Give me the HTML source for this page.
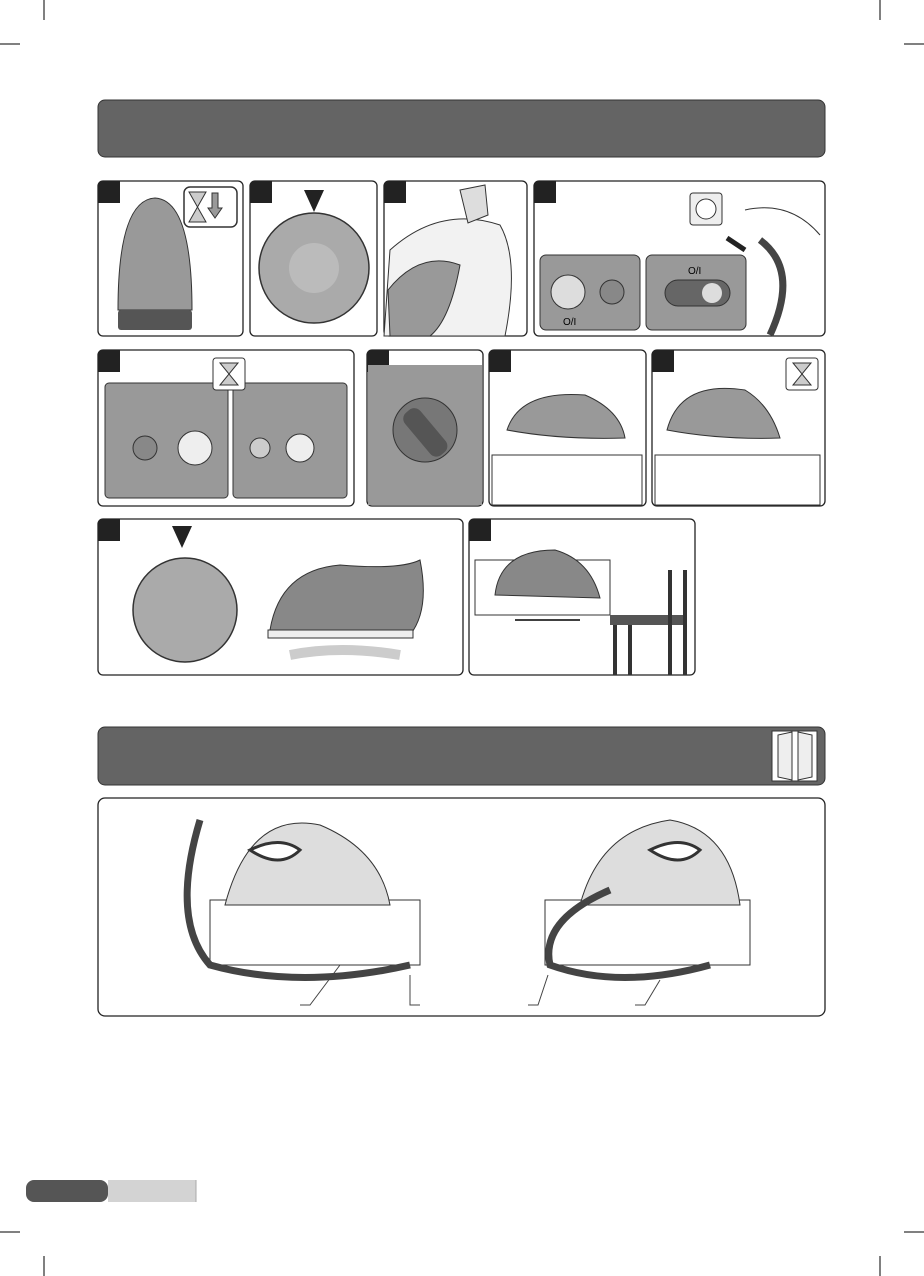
<!DOCTYPE html>
<html><head><style>body{margin:0;background:#fff}svg{display:block}</style></head><body>
<svg width="924" height="1276" viewBox="0 0 924 1276" xmlns="http://www.w3.org/2000/svg" font-family="Liberation Sans, sans-serif">
<g stroke="#000" stroke-width="1" fill="none">
<path d="M0 44H20M44 0V20M880 0V20M904 44H924M0 1232H20M44 1256V1276M880 1256V1276M904 1232H924"/>
</g>
<rect x="98" y="100" width="727" height="57" rx="7" fill="#646464" stroke="#333"/>
<rect x="98" y="727" width="727" height="58" rx="7" fill="#646464" stroke="#333"/>
<!-- wardrobe icon -->
<rect x="772" y="731" width="45" height="50" fill="#fff" stroke="#333"/>
<path d="M778 735v42l14 3v-48zM812 735v42l-14 3v-48z" fill="#eee" stroke="#333"/>
<g fill="#fff" stroke="#222" stroke-width="1.3">
<rect x="98" y="181" width="145" height="155" rx="5"/>
<rect x="250" y="181" width="127" height="155" rx="5"/>
<rect x="384" y="181" width="143" height="155" rx="5"/>
<rect x="534" y="181" width="291" height="155" rx="5"/>
<rect x="98" y="350" width="256" height="156" rx="5"/>
<rect x="367" y="350" width="116" height="156" rx="5"/>
<rect x="489" y="350" width="157" height="156" rx="5"/>
<rect x="652" y="350" width="173" height="156" rx="5"/>
<rect x="98" y="519" width="365" height="156" rx="5"/>
<rect x="469" y="519" width="226" height="156" rx="5"/>
<rect x="98" y="798" width="727" height="218" rx="7"/>
</g>
<g fill="#222">
<path d="M98 186a5 5 0 0 1 5-5h17v22h-22z"/>
<path d="M250 186a5 5 0 0 1 5-5h17v22h-22z"/>
<path d="M384 186a5 5 0 0 1 5-5h17v22h-22z"/>
<path d="M534 186a5 5 0 0 1 5-5h17v22h-22z"/>
<path d="M98 355a5 5 0 0 1 5-5h17v22h-22z"/>
<path d="M367 355a5 5 0 0 1 5-5h17v22h-22z"/>
<path d="M489 355a5 5 0 0 1 5-5h17v22h-22z"/>
<path d="M652 355a5 5 0 0 1 5-5h17v22h-22z"/>
<path d="M98 524a5 5 0 0 1 5-5h17v22h-22z"/>
<path d="M469 524a5 5 0 0 1 5-5h17v22h-22z"/>
</g>
<!-- P1 iron soleplate -->
<path d="M118 310 Q118 200 155 198 Q192 200 192 310z" fill="#999" stroke="#333"/>
<rect x="118" y="310" width="74" height="20" rx="3" fill="#555"/>
<rect x="184" y="187" width="53" height="40" rx="6" fill="#fff" stroke="#333" stroke-width="1.5"/>
<path d="M189 192h17l-17 30h17z" fill="#ccc" stroke="#333"/>
<path d="M212 193v15h-4l7 10 7-10h-4v-15z" fill="#999" stroke="#333"/>
<!-- P2 dial -->
<path d="M304 190h20l-10 22z" fill="#222"/>
<circle cx="314" cy="268" r="55" fill="#aaa" stroke="#333" stroke-width="1.5"/>
<circle cx="314" cy="268" r="25" fill="#bbb"/>
<!-- P3 -->
<path d="M390 250 Q440 205 500 225 Q520 260 505 336H384z" fill="#f2f2f2" stroke="#333"/>
<path d="M388 290 Q420 250 460 265 Q450 320 430 336H390z" fill="#999" stroke="#333"/>
<path d="M460 190l25-5 3 30-20 8z" fill="#ddd" stroke="#333"/>
<!-- P4 -->
<rect x="540" y="255" width="100" height="75" rx="6" fill="#999" stroke="#333"/>
<rect x="646" y="255" width="100" height="75" rx="6" fill="#999" stroke="#333"/>
<circle cx="568" cy="292" r="17" fill="#ddd" stroke="#333"/>
<circle cx="612" cy="292" r="12" fill="#888" stroke="#333"/>
<rect x="665" y="280" width="65" height="26" rx="13" fill="#666" stroke="#333"/>
<circle cx="712" cy="293" r="10" fill="#ddd"/>
<text x="688" y="274" font-size="10">O/I</text>
<text x="563" y="325" font-size="10">O/I</text>
<rect x="690" y="193" width="32" height="32" rx="3" fill="#eee" stroke="#333"/>
<circle cx="706" cy="209" r="10" fill="#fff" stroke="#333"/>
<path d="M745 250l-18-12" stroke="#222" stroke-width="5"/>
<path d="M760 240 Q800 270 770 335" stroke="#444" stroke-width="7" fill="none"/>
<path d="M745 210 Q790 200 820 235" fill="#fff" stroke="#333"/>
<!-- P5 -->
<rect x="105" y="383" width="123" height="115" rx="4" fill="#999" stroke="#333"/>
<rect x="233" y="383" width="114" height="115" rx="4" fill="#999" stroke="#333"/>
<circle cx="145" cy="448" r="12" fill="#888" stroke="#333"/>
<circle cx="195" cy="448" r="17" fill="#eee" stroke="#333"/>
<circle cx="260" cy="448" r="10" fill="#ccc" stroke="#333"/>
<circle cx="300" cy="448" r="14" fill="#eee" stroke="#333"/>
<rect x="213" y="358" width="32" height="32" rx="3" fill="#fff" stroke="#333"/>
<path d="M220 363h18l-18 22h18z" fill="#ccc" stroke="#333"/>
<!-- P6 -->
<rect x="368" y="365" width="114" height="140" fill="#999"/>
<circle cx="425" cy="430" r="32" fill="#777" stroke="#333"/>
<rect x="415" y="405" width="20" height="55" rx="8" fill="#555" transform="rotate(-40 425 432)"/>
<!-- P7/P8 iron & base -->
<path d="M492 455h150v50H492z" fill="#fff" stroke="#333"/>
<path d="M507 430 Q520 390 585 395 Q620 410 625 438 Q560 440 507 430z" fill="#999" stroke="#333"/>
<path d="M655 455h165v50H655z" fill="#fff" stroke="#333"/>
<path d="M667 430 Q680 380 745 390 Q770 405 780 438 Q720 440 667 430z" fill="#999" stroke="#333"/>
<rect x="786" y="358" width="32" height="32" rx="3" fill="#fff" stroke="#333"/>
<path d="M793 363h18l-18 22h18z" fill="#ccc" stroke="#333"/>
<!-- P9 -->
<path d="M172 526h20l-10 22z" fill="#222"/>
<circle cx="185" cy="610" r="52" fill="#aaa" stroke="#333" stroke-width="1.5"/>
<path d="M270 630 Q280 570 340 565 Q400 570 420 560 Q430 610 410 635z" fill="#888" stroke="#333"/>
<path d="M268 630h145v8H268z" fill="#eee" stroke="#333"/>
<path d="M290 655 Q340 645 400 655" stroke="#ccc" stroke-width="10"/>
<!-- P10 -->
<path d="M475 560h135v55H475z" fill="#fff" stroke="#333"/>
<path d="M495 595 Q500 550 555 550 Q590 560 600 598z" fill="#888" stroke="#333"/>
<path d="M610 615h75v10h-75z" fill="#555"/>
<path d="M615 625v50M630 625v50M670 570v105M685 570v105" stroke="#333" stroke-width="4"/>
<path d="M515 620h65" stroke="#000" stroke-width="1.5"/>
<!-- Big panel irons -->
<path d="M210 900h210v65H210z" fill="#fff" stroke="#333"/>
<path d="M225 905 Q250 810 320 825 Q380 850 390 905z" fill="#ddd" stroke="#333"/>
<path d="M250 850 Q280 835 300 850 Q280 870 250 850z" fill="#fff" stroke="#333" stroke-width="3"/>
<path d="M200 820 Q170 920 210 965 Q300 990 410 965" stroke="#444" stroke-width="7" fill="none"/>
<path d="M545 900h205v65H545z" fill="#fff" stroke="#333"/>
<path d="M580 905 Q600 830 670 820 Q730 830 740 905z" fill="#ddd" stroke="#333"/>
<path d="M650 850 Q680 835 700 850 Q680 870 650 850z" fill="#fff" stroke="#333" stroke-width="3"/>
<path d="M610 890 Q540 920 550 965 Q620 990 710 965" stroke="#444" stroke-width="7" fill="none"/>
<path d="M340 965l-30 40h-10M410 975v30h10M548 975l-10 30h-10M660 980l-15 25h-10" stroke="#444" fill="none"/>
<!-- bottom tab -->
<rect x="26" y="1180" width="82" height="22" rx="8" fill="#555"/>
<rect x="108" y="1180" width="88" height="22" fill="#d3d3d3"/>
<path d="M196 1180v22" stroke="#aaa"/>
</svg>
</body></html>
